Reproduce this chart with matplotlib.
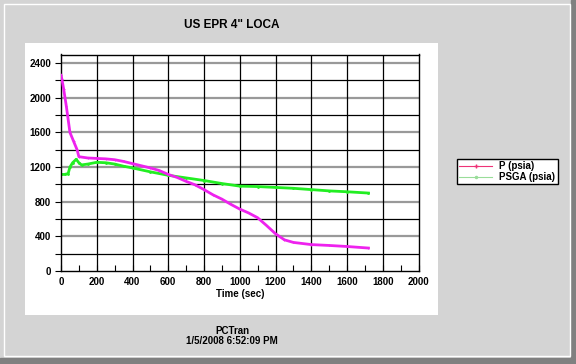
import numpy as np
import matplotlib.pyplot as plt
from matplotlib.patches import Rectangle

# P (psia) - primary pressure
t_p = [0, 5, 15, 30, 50, 70, 90, 100, 150, 200, 250, 300, 350, 400, 450, 500,
       550, 600, 650, 700, 750, 800, 850, 900, 950, 1000, 1050, 1100, 1150,
       1200, 1250, 1300, 1400, 1500, 1600, 1720]
p_psia = [2260, 2215, 2100, 1900, 1600, 1500, 1400, 1320, 1305, 1300, 1295,
          1285, 1265, 1240, 1215, 1190, 1160, 1115, 1080, 1035, 995, 940, 880,
          830, 770, 715, 670, 615, 525, 430, 360, 330, 305, 295, 283, 265]

# PSGA (psia) - steam generator pressure
t_sg = [0, 20, 40, 50, 65, 85, 100, 115, 150, 200, 250, 300, 350, 400, 500,
        600, 700, 800, 900, 1000, 1100, 1200, 1300, 1400, 1500, 1600, 1720]
psga_psia = [1115, 1115, 1125, 1200, 1250, 1290, 1250, 1225, 1235, 1255, 1250,
             1235, 1210, 1190, 1145, 1105, 1075, 1045, 1010, 980, 975, 965,
             955, 940, 925, 915, 900]

xticks = list(range(0, 2001, 200))
yticks = list(range(0, 2401, 400))

W, H = 576, 364
bg = '#d4d4d4'
font = 'Liberation Sans'

def fx(x):
    return x / W

def fy(y):
    return 1 - y / H

fig = plt.figure(figsize=(5.76, 3.64), dpi=100, facecolor=bg)

# window border
fig.patches.append(Rectangle((fx(571), 0), 1, 1, transform=fig.transFigure,
                             color='#808080', zorder=0))
fig.patches.append(Rectangle((0, 0), 1, fy(358), transform=fig.transFigure,
                             color='#808080', zorder=0))
fig.patches.append(Rectangle((fx(4), fy(356)), fx(566), (356 - 4) / H,
                             transform=fig.transFigure, facecolor=bg,
                             edgecolor='white', lw=1, zorder=0))
# white chart panel
fig.patches.append(Rectangle((fx(25), fy(315)), fx(413), (315 - 42.5) / H,
                             transform=fig.transFigure, facecolor='white',
                             edgecolor='none', zorder=0.5))

ax = fig.add_axes([fx(61), fy(271), fx(418.5) - fx(61), (271 - 54.5) / H])
ax.set_zorder(2)
ax.set_facecolor('white')

# grid: gray at labelled values, black in between
for v in range(200, 2500, 200):
    if v % 400 == 0:
        ax.axhline(v, color='#999999', lw=1.6, zorder=1)
    else:
        ax.axhline(v, color='black', lw=0.9, zorder=1)
for v in xticks[1:-1]:
    ax.axvline(v, color='black', lw=0.9, zorder=1)

ax.plot(t_p, p_psia, color='#ee22ee', lw=2.0, marker='+', ms=2, mew=0.6,
        label='P (psia)', zorder=3)
ax.plot(t_sg, psga_psia, color='#22ee22', lw=2.0, marker='.', ms=2,
        label='PSGA (psia)', zorder=2)

ax.set_xlim(0, 2000)
ax.set_ylim(0, 2500)
ax.set_xticks(xticks)
ax.set_yticks(yticks)
ax.set_xticks(range(100, 2000, 200), minor=True)
ax.set_yticks(range(200, 2500, 400), minor=True)
ax.tick_params(axis='x', which='both', direction='in', length=4, width=0.8,
               pad=4, labelsize=7)
ax.tick_params(axis='y', which='both', direction='out', length=4, width=0.8,
               pad=3, labelsize=7)
for lab in ax.get_xticklabels() + ax.get_yticklabels():
    lab.set_fontweight('bold')
    lab.set_family(font)
for s in ax.spines.values():
    s.set_linewidth(1.0)
    s.set_color('black')

ax.set_xlabel('Time (sec)', fontsize=7, fontweight='bold', family=font,
              labelpad=2)

leg_lines = [plt.Line2D([], [], color='#ee3377', lw=0.8, marker='+', ms=3),
             plt.Line2D([], [], color='#99dd99', lw=0.8, marker='.', ms=3)]
fig.legend(leg_lines, ['P (psia)', 'PSGA (psia)'],
           loc='upper left', bbox_to_anchor=(fx(457), fy(159)),
           prop={'family': font, 'weight': 'bold', 'size': 7},
           frameon=True, fancybox=False, edgecolor='black', facecolor='white',
           framealpha=1, borderpad=0.25, handlelength=3.4, labelspacing=0.05,
           handletextpad=0.7, borderaxespad=0)

fig.text(fx(232), fy(25), 'US EPR 4" LOCA', ha='center', va='center',
         fontsize=8.5, fontweight='bold', family=font)
fig.text(fx(232), fy(331), 'PCTran', ha='center', va='center',
         fontsize=7, fontweight='bold', family=font)
fig.text(fx(232), fy(341), '1/5/2008 6:52:09 PM', ha='center', va='center',
         fontsize=7, fontweight='bold', family=font)

fig.savefig('out.png', dpi=100, facecolor=bg)
